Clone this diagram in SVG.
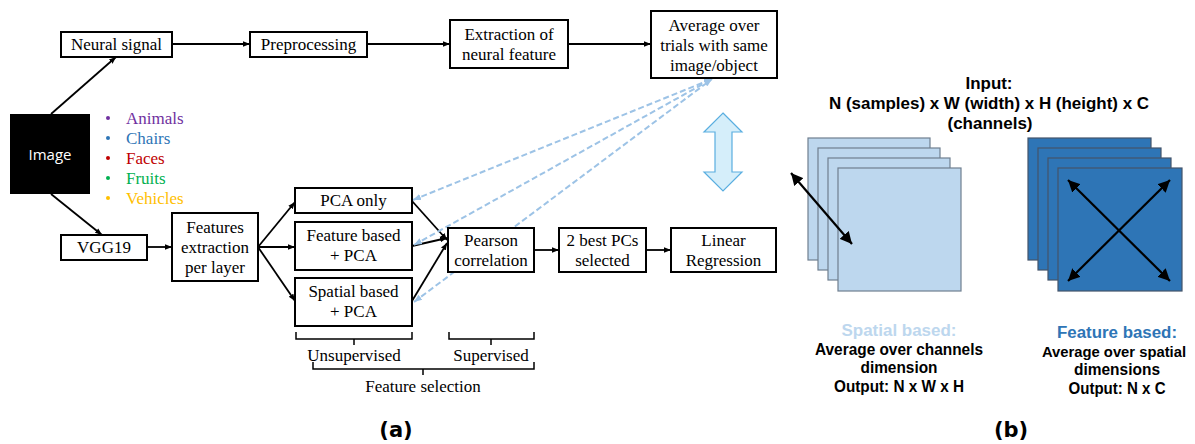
<svg xmlns="http://www.w3.org/2000/svg" width="1195" height="444" viewBox="0 0 1195 444">
<defs>
<marker id="ah" viewBox="0 0 10 10" refX="10" refY="5" markerWidth="7" markerHeight="7" markerUnits="userSpaceOnUse" orient="auto-start-reverse"><path d="M0,1 L10,5 L0,9 z" fill="#000"/></marker>
<marker id="ahb" viewBox="0 0 10 10" refX="10" refY="5" markerWidth="12" markerHeight="12" markerUnits="userSpaceOnUse" orient="auto-start-reverse"><path d="M0,0 L10,5 L0,10 z" fill="#000"/></marker>
<marker id="ahl" viewBox="0 0 10 10" refX="10" refY="5" markerWidth="8" markerHeight="8" markerUnits="userSpaceOnUse" orient="auto-start-reverse"><path d="M0,1 L10,5 L0,9 z" fill="#9dc3e6"/></marker>
</defs>
<style>
.box{fill:#fff;stroke:#000;stroke-width:2}
.t{font-family:"Liberation Serif",serif;font-size:17px;fill:#000;text-anchor:middle}
.lg{font-family:"Liberation Serif",serif;font-size:17px}
.c{fill:none;stroke:#000;stroke-width:1.8}
.d{fill:none;stroke:#9dc3e6;stroke-width:2;stroke-dasharray:6 3}
.br{fill:none;stroke:#000;stroke-width:1.5}
.s{font-family:"Liberation Sans",Arial,sans-serif;font-weight:bold;font-size:16px;fill:#000;text-anchor:middle}
.lab{font-family:"DejaVu Sans",sans-serif;font-weight:bold;font-size:21px;fill:#000;text-anchor:middle}
.lt{fill:#bdd7ee;stroke:#6f7f8f;stroke-width:1.2}
.dk{fill:#2e75b6;stroke:#44546a;stroke-width:1.2}
</style>
<rect width="1195" height="444" fill="#fff"/>

<g id="connectors">
<path class="c" d="M51,114 L116,57" marker-end="url(#ah)"/>
<path class="c" d="M51,194 L102,235" marker-end="url(#ah)"/>
<path class="c" d="M172,44 L250,44" marker-end="url(#ah)"/>
<path class="c" d="M367,44 L450,44" marker-end="url(#ah)"/>
<path class="c" d="M568,44 L651,44" marker-end="url(#ah)"/>
<path class="c" d="M147,247 L172,247" marker-end="url(#ah)"/>
<path class="c" d="M258,247 L295,202" marker-end="url(#ah)"/>
<path class="c" d="M258,247 L295,247" marker-end="url(#ah)"/>
<path class="c" d="M258,247 L295,301" marker-end="url(#ah)"/>
<path class="c" d="M412,201 L447,240" marker-end="url(#ah)"/>
<path class="c" d="M412,246 L447,238" marker-end="url(#ah)"/>
<path class="c" d="M412,301 L447,243" marker-end="url(#ah)"/>
<path class="c" d="M534,250 L559,250" marker-end="url(#ah)"/>
<path class="c" d="M646,250 L671,250" marker-end="url(#ah)"/>
<path class="d" d="M413,200 L712,79" marker-start="url(#ahl)" marker-end="url(#ahl)"/>
<path class="d" d="M414,245 L712,79" marker-start="url(#ahl)" marker-end="url(#ahl)"/>
<path class="d" d="M414,302 L712,79" marker-start="url(#ahl)" marker-end="url(#ahl)"/>
</g>

<g id="image">
<rect x="10" y="114" width="80" height="80" fill="#000"/>
<text x="50" y="160" font-family="'Open Sans','Liberation Sans',sans-serif" font-size="15" fill="#fff" text-anchor="middle">Image</text>
</g>
<g id="legend" class="lg">
<circle cx="108" cy="118" r="2" fill="#7030a0"/><text x="126" y="124" fill="#7030a0">Animals</text>
<circle cx="108" cy="138" r="2" fill="#2e75b6"/><text x="126" y="144" fill="#2e75b6">Chairs</text>
<circle cx="108" cy="158" r="2" fill="#c00000"/><text x="126" y="164" fill="#c00000">Faces</text>
<circle cx="108" cy="178" r="2" fill="#00b050"/><text x="126" y="184" fill="#00b050">Fruits</text>
<circle cx="108" cy="198" r="2" fill="#ffc000"/><text x="126" y="204" fill="#ffc000">Vehicles</text>
</g>

<g id="neural-signal"><rect class="box" x="61" y="32" width="111" height="25"/><text class="t" x="116.5" y="50">Neural signal</text></g>
<g id="preprocessing"><rect class="box" x="250" y="32" width="117" height="25"/><text class="t" x="308.5" y="50">Preprocessing</text></g>
<g id="extraction"><rect class="box" x="450" y="20" width="118" height="48"/><text class="t" x="509" y="40">Extraction of</text><text class="t" x="509" y="60">neural feature</text></g>
<g id="average"><rect class="box" x="651" y="11" width="126" height="67"/><text class="t" x="714" y="31">Average over</text><text class="t" x="714" y="51">trials with same</text><text class="t" x="714" y="71">image/object</text></g>

<g id="vgg19"><rect class="box" x="61" y="235" width="86" height="25"/><text class="t" x="104" y="253">VGG19</text></g>
<g id="features-extraction"><rect class="box" x="172" y="213" width="86" height="68"/><text class="t" x="215" y="233">Features</text><text class="t" x="215" y="253">extraction</text><text class="t" x="215" y="273">per layer</text></g>
<g id="pca-only"><rect class="box" x="295" y="188" width="117" height="25"/><text class="t" x="353.5" y="206">PCA only</text></g>
<g id="feature-based"><rect class="box" x="295" y="222" width="117" height="48"/><text class="t" x="353.5" y="241">Feature based</text><text class="t" x="353.5" y="261">+ PCA</text></g>
<g id="spatial-based"><rect class="box" x="295" y="278" width="117" height="48"/><text class="t" x="353.5" y="297">Spatial based</text><text class="t" x="353.5" y="317">+ PCA</text></g>
<g id="pearson"><rect class="box" x="448" y="228" width="86" height="44"/><text class="t" x="491" y="246">Pearson</text><text class="t" x="491" y="266">correlation</text></g>
<g id="best-pcs"><rect class="box" x="559" y="228" width="87" height="44"/><text class="t" x="602.5" y="246">2 best PCs</text><text class="t" x="602.5" y="266">selected</text></g>
<g id="linear-regression"><rect class="box" x="671" y="228" width="105" height="44"/><text class="t" x="723.5" y="246">Linear</text><text class="t" x="723.5" y="266">Regression</text></g>

<g id="braces">
<path class="br" d="M296,332 V339 H412 V332 M354,339 V345"/>
<text class="t" x="354" y="361">Unsupervised</text>
<path class="br" d="M449,332 V339 H534 V332 M491,339 V345"/>
<text class="t" x="491" y="361">Supervised</text>
<path class="br" d="M313,362 V369 H534 V362 M423,369 V375"/>
<text class="t" x="423" y="392">Feature selection</text>
</g>

<g id="double-arrow">
<path d="M723,113 L742,132 L732,132 L732,172 L742,172 L723,191 L704,172 L715,172 L715,132 L704,132 Z" fill="#d5eefa" stroke="#5aaee0" stroke-width="1.2"/>
</g>

<text class="lab" x="396" y="437">(a)</text>

<g id="input-label">
<text class="s" x="989" y="89" textLength="47" lengthAdjust="spacingAndGlyphs">Input:</text>
<text class="s" x="989" y="109" textLength="320" lengthAdjust="spacingAndGlyphs">N (samples) x W (width) x H (height) x C</text>
<text class="s" x="990" y="129" textLength="85" lengthAdjust="spacingAndGlyphs">(channels)</text>
</g>

<g id="spatial-stack">
<rect class="lt" x="808" y="138" width="122" height="122"/>
<rect class="lt" x="818" y="148" width="122" height="122"/>
<rect class="lt" x="828" y="158" width="122" height="122"/>
<rect class="lt" x="838" y="168" width="123" height="123"/>
<path d="M791,173 L852,244" stroke="#000" stroke-width="2.2" fill="none" marker-start="url(#ahb)" marker-end="url(#ahb)"/>
</g>
<g id="feature-stack">
<rect class="dk" x="1028" y="138" width="123" height="122"/>
<rect class="dk" x="1038" y="148" width="123" height="122"/>
<rect class="dk" x="1048" y="158" width="123" height="122"/>
<rect class="dk" x="1058" y="168" width="124" height="123"/>
<path d="M1068,180 L1170,281" stroke="#000" stroke-width="2.2" fill="none" marker-start="url(#ahb)" marker-end="url(#ahb)"/>
<path d="M1170,180 L1068,281" stroke="#000" stroke-width="2.2" fill="none" marker-start="url(#ahb)" marker-end="url(#ahb)"/>
</g>

<g id="spatial-text">
<text class="s" x="899" y="336" textLength="115" lengthAdjust="spacingAndGlyphs" style="fill:#bdd7ee">Spatial based:</text>
<text class="s" x="899" y="355" textLength="168" lengthAdjust="spacingAndGlyphs">Average over channels</text>
<text class="s" x="899" y="373" textLength="77" lengthAdjust="spacingAndGlyphs">dimension</text>
<text class="s" x="899" y="392" textLength="130" lengthAdjust="spacingAndGlyphs">Output: N x W x H</text>
</g>
<g id="feature-text">
<text class="s" x="1117" y="338" textLength="120" lengthAdjust="spacingAndGlyphs" style="fill:#2e75b6">Feature based:</text>
<text class="s" x="1114" y="357" font-size="15" style="font-size:15px" textLength="144" lengthAdjust="spacingAndGlyphs">Average over spatial</text>
<text class="s" x="1117" y="375" textLength="86" lengthAdjust="spacingAndGlyphs">dimensions</text>
<text class="s" x="1117" y="394" textLength="97" lengthAdjust="spacingAndGlyphs">Output: N x C</text>
</g>
<text class="lab" x="1011" y="437">(b)</text>
</svg>
